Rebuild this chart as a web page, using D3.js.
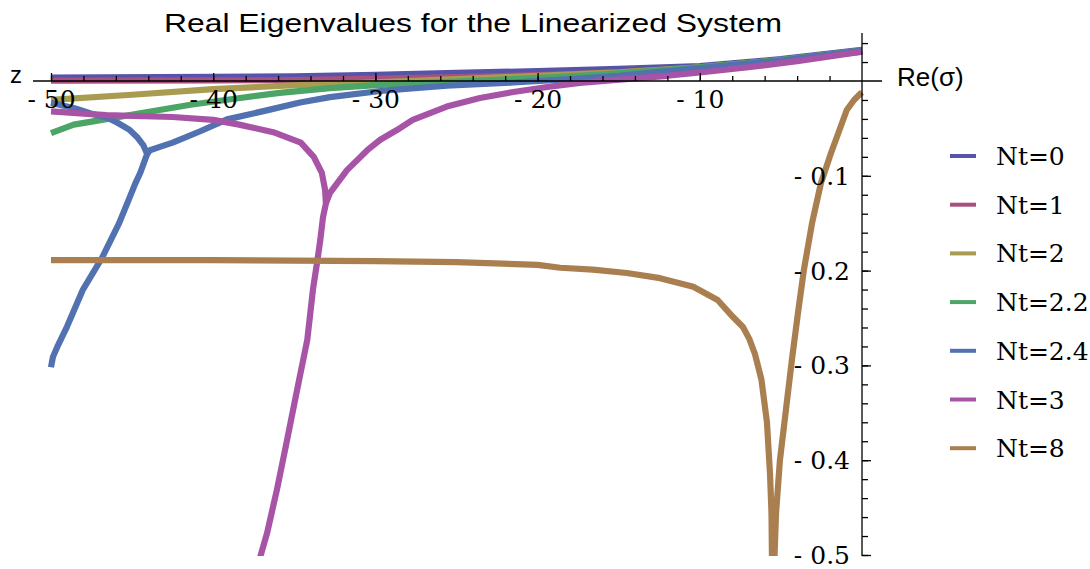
<!DOCTYPE html>
<html>
<head>
<meta charset="utf-8">
<script src="https://cdn.jsdelivr.net/npm/d3@7"></script>
<style>
  html, body { margin: 0; padding: 0; background: #fff; }
  svg { display: block; }
  .sans { font-family: 'Liberation Sans', 'DejaVu Sans', sans-serif; }
  .serif { font-family: 'DejaVu Serif', serif; }
</style>
</head>
<body>
<svg id="chart" width="1090" height="569"></svg>
<script>
// Real eigenvalues: each point is [Re(sigma), z]; curves with a branch point are split into segments.
const seriesNames = ["Nt=0", "Nt=1", "Nt=2", "Nt=2.2", "Nt=2.4", "Nt=3", "Nt=8"];
const seriesColors = ["#5654a8", "#a8507f", "#a99b4f", "#4ca566", "#5171b0", "#a754a6", "#a97f4f"];

const nt0 = [[
  [-50, 0.0035], [-40, 0.0045], [-35, 0.005], [-30, 0.0065], [-25, 0.0085], [-20, 0.0105],
  [-15, 0.0128], [-10, 0.0158], [-5, 0.023], [0, 0.033]
]];
const nt1 = [[
  [-50, 0.0003], [-40, 0.0006], [-35, 0.001], [-30, 0.0025], [-25, 0.004], [-20, 0.0063],
  [-15, 0.009], [-10, 0.014], [-5, 0.021], [0, 0.031]
]];
const nt2 = [[
  [-50, -0.020], [-45, -0.0145], [-40, -0.0085], [-35, -0.0045], [-30, -0.0015], [-25, 0.002],
  [-20, 0.0055], [-15, 0.009], [-10, 0.0145], [-5, 0.022], [0, 0.032]
]];
const nt22 = [[
  [-50, -0.055], [-48.6, -0.046], [-46.5, -0.040], [-44.5, -0.034], [-41.4, -0.025], [-38.8, -0.019],
  [-35.9, -0.0125], [-32.8, -0.0075], [-29.7, -0.004], [-25.6, -0.001], [-21.5, 0.002], [-18, 0.005],
  [-15, 0.008], [-10, 0.0145], [-5, 0.022], [0, 0.032]
]];
const nt24 = [
  [
    [-50, -0.023], [-48.5, -0.029], [-47.6, -0.034], [-46.5, -0.039], [-45.9, -0.044], [-45.2, -0.051],
    [-44.7, -0.059], [-44.3, -0.068], [-44.07, -0.077], [-44.2, -0.083], [-44.5, -0.097], [-44.8, -0.108],
    [-45.13, -0.122], [-45.8, -0.150], [-46.84, -0.186], [-48.03, -0.220], [-49.01, -0.259],
    [-49.6, -0.280], [-49.88, -0.291], [-50, -0.302]
  ],
  [
    [-44.07, -0.077], [-43.9, -0.073], [-43.2, -0.069], [-42.5, -0.065], [-40.8, -0.053], [-39.15, -0.0405],
    [-36.7, -0.031], [-34.65, -0.0227], [-32.8, -0.017], [-29.7, -0.0105], [-25.6, -0.005], [-21.5, -0.0016],
    [-18, 0.002], [-15, 0.0055], [-10, 0.0135], [-5, 0.0215], [0, 0.032]
  ]
];
const nt3 = [
  [
    [-50, -0.032], [-46.6, -0.036], [-42.5, -0.038], [-40, -0.041], [-38.4, -0.046], [-36.3, -0.054],
    [-34.6, -0.065], [-33.8, -0.080], [-33.3, -0.097], [-33.1, -0.115], [-33.05, -0.129],
    [-33.23, -0.1435], [-33.4, -0.168], [-33.6, -0.192], [-33.85, -0.220], [-34.2, -0.273],
    [-34.83, -0.326], [-35.45, -0.379], [-36.07, -0.431], [-36.68, -0.477], [-37.1, -0.502]
  ],
  [
    [-33.05, -0.129], [-32.8, -0.118], [-31.75, -0.094], [-30.5, -0.073], [-29.7, -0.062], [-28.7, -0.052],
    [-27.7, -0.041], [-25.6, -0.027], [-23.55, -0.018], [-21.5, -0.0116], [-19.4, -0.0063], [-17.4, -0.002],
    [-15.35, 0.001], [-12, 0.0055], [-10, 0.009], [-7, 0.0145], [-4, 0.021], [-2, 0.026], [0, 0.031]
  ]
];
const nt8 = [[
  [-50, -0.189], [-40, -0.189], [-35, -0.1895], [-30, -0.190], [-25, -0.191], [-20, -0.194],
  [-18.6, -0.197], [-16.6, -0.199], [-14.5, -0.2025], [-12.45, -0.208], [-10.4, -0.217], [-8.9, -0.231],
  [-7.95, -0.249], [-7.34, -0.2595], [-6.95, -0.272], [-6.6, -0.288], [-6.2, -0.315], [-5.86, -0.360],
  [-5.67, -0.415], [-5.58, -0.456], [-5.55, -0.505], [-5.4, -0.505], [-5.30, -0.456], [-5.06, -0.400],
  [-4.69, -0.347], [-4.32, -0.294], [-3.95, -0.245], [-3.58, -0.199], [-3.08, -0.150], [-2.53, -0.1076],
  [-1.91, -0.076], [-1.39, -0.0517], [-0.94, -0.0306], [-0.49, -0.020], [-0.12, -0.0137], [0, -0.012]
]];
const allSeries = [nt0, nt1, nt2, nt22, nt24, nt3, nt8];

const xMajorTicks = [-50, -40, -30, -20, -10];
const xMinorTicks = d3.range(-50, 0, 2);
const yMajorTicks = [-0.1, -0.2, -0.3, -0.4, -0.5];
const yMinorTicks = d3.range(-0.5, 0.05, 0.02).map(v => +v.toFixed(2)).filter(v => Math.abs(v) > 1e-9);

const titleText = "Real Eigenvalues for the Linearized System";
const xAxisLabel = "Re(σ)";
const yAxisLabel = "z";

const svg = d3.select("#chart");

const x = d3.scaleLinear().domain([-50, 0]).range([51, 862]);
const y = d3.scaleLinear().domain([0, -0.5]).range([81, 555]);

// title
svg.append("text")
  .attr("class", "sans")
  .attr("x", 473).attr("y", 32)
  .attr("text-anchor", "middle")
  .attr("font-size", 26)
  .attr("textLength", 618)
  .attr("lengthAdjust", "spacingAndGlyphs")
  .attr("fill", "#000")
  .text(titleText);

// clipping region for the curves
svg.append("defs").append("clipPath").attr("id", "plotClip")
  .append("rect").attr("x", 46).attr("y", 30).attr("width", 822).attr("height", y(-0.5) - 30 + 1);

const line = d3.line().x(d => x(d[0])).y(d => y(d[1]));

const curves = svg.append("g").attr("clip-path", "url(#plotClip)");
allSeries.forEach((segs, i) => {
  segs.forEach(seg => {
    curves.append("path")
      .attr("d", line(seg))
      .attr("fill", "none")
      .attr("stroke", seriesColors[i])
      .attr("stroke-width", 6.2)
      .attr("stroke-linejoin", "round")
      .attr("stroke-linecap", "butt");
  });
});

// axes crossing at the origin
const fmt = d => "- " + d3.format("")(Math.abs(d));

const axisG = svg.append("g");
axisG.append("line")
  .attr("x1", 33).attr("x2", 882).attr("y1", y(0)).attr("y2", y(0))
  .attr("stroke", "#000").attr("stroke-width", 1.3);
axisG.append("line")
  .attr("x1", x(0)).attr("x2", x(0)).attr("y1", 33).attr("y2", y(-0.5) + 1)
  .attr("stroke", "#000").attr("stroke-width", 1.3);

const xMinor = axisG.append("g").attr("transform", `translate(0,${y(0)})`)
  .call(d3.axisBottom(x).tickValues(xMinorTicks).tickSizeInner(-5).tickSizeOuter(0).tickFormat(""));
const xMajor = axisG.append("g").attr("transform", `translate(0,${y(0)})`)
  .call(d3.axisBottom(x).tickValues(xMajorTicks).tickSizeInner(-8).tickSizeOuter(0).tickPadding(10).tickFormat(fmt));
const yMinor = axisG.append("g").attr("transform", `translate(${x(0)},0)`)
  .call(d3.axisLeft(y).tickValues(yMinorTicks).tickSizeInner(-6).tickSizeOuter(0).tickFormat(""));
const yMajor = axisG.append("g").attr("transform", `translate(${x(0)},0)`)
  .call(d3.axisLeft(y).tickValues(yMajorTicks).tickSizeInner(-9).tickSizeOuter(0).tickPadding(12).tickFormat(fmt));

[xMinor, xMajor, yMinor, yMajor].forEach(g => {
  g.attr("font-family", null).attr("font-size", null);
  g.select(".domain").remove();
  g.selectAll(".tick line").attr("stroke", "#000").attr("stroke-width", 1.3);
  g.selectAll(".tick text")
    .style("font-family", "'DejaVu Serif', serif")
    .style("font-size", "25px")
    .attr("fill", "#000");
});
xMajor.selectAll(".tick text").attr("dy", "0.68em");
yMajor.selectAll(".tick text").attr("dy", "0.34em");

// axis labels
svg.append("text")
  .attr("class", "sans")
  .attr("x", 10).attr("y", 83)
  .attr("font-size", 24).attr("fill", "#000")
  .text(yAxisLabel);
svg.append("text")
  .attr("class", "sans")
  .attr("x", 897).attr("y", 86)
  .attr("font-size", 26).attr("fill", "#000")
  .text(xAxisLabel);

// legend
const legend = svg.append("g");
seriesNames.forEach((name, i) => {
  const ly = 156 + i * 48.7;
  legend.append("line")
    .attr("x1", 950).attr("x2", 976).attr("y1", ly).attr("y2", ly)
    .attr("stroke", seriesColors[i]).attr("stroke-width", 4);
  legend.append("text")
    .attr("class", "serif")
    .attr("x", 996).attr("y", ly).attr("dy", "0.36em")
    .attr("font-size", 25).attr("fill", "#000")
    .text(name);
});
</script>
</body>
</html>
